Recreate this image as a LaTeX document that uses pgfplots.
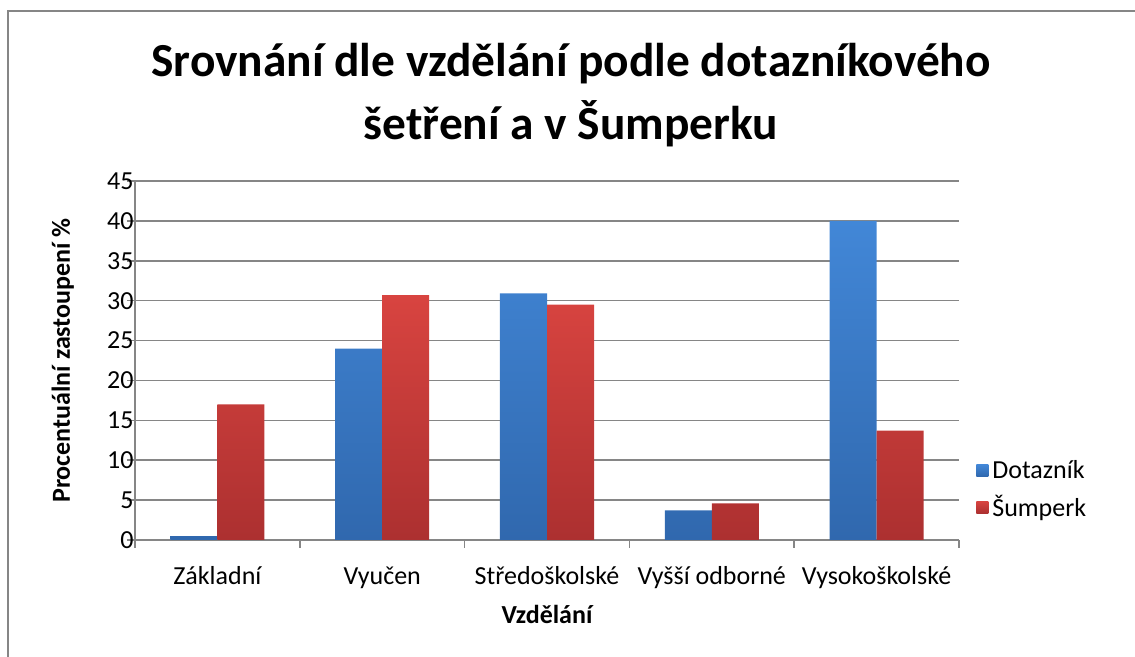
\documentclass[border=0pt]{standalone}
\usepackage{fontspec}
\setmainfont{Carlito}
\usepackage{pgfplots}
\pgfplotsset{compat=1.18}
\definecolor{gridgray}{RGB}{134,134,134}
\definecolor{bluetop}{RGB}{66,135,215}
\definecolor{bluebot}{RGB}{48,104,174}
\definecolor{redtop}{RGB}{216,68,64}
\definecolor{redbot}{RGB}{172,48,48}
\begin{document}
\begin{tikzpicture}
\useasboundingbox (0,0) rectangle (567.5pt,328.5pt);
\draw[gridgray, line width=1pt] (4pt,0) -- (4pt,323pt) -- (567.5pt,323pt);
\node[anchor=base, inner sep=0pt, font=\fontsize{23.7}{28}\selectfont\bfseries] at (285.5pt,290pt) {Srovnání dle vzdělání podle dotazníkového};
\node[anchor=base, inner sep=0pt, font=\fontsize{23.7}{28}\selectfont\bfseries] at (285.5pt,258.5pt) {šetření a v Šumperku};
\begin{axis}[
  at={(67.5pt,58.5pt)}, anchor=south west,
  scale only axis, width=412pt, height=179.5pt,
  ybar=0pt, bar width=23.5pt,
  xmin=-0.5, xmax=4.5, ymin=0, ymax=45,
  ytick={0,5,...,45},
  xtick={-0.5,0.5,...,4.5}, xticklabels={},
  extra x ticks={0,1,2,3,4},
  extra x tick labels={Základní,Vyučen,Středoškolské,Vyšší odborné,Vysokoškolské},
  extra x tick style={major tick length=0pt, xticklabel style={anchor=base, yshift=-22.5pt}},
  axis x line*=bottom, axis y line*=left,
  axis line style={-, gridgray, line width=0.75pt},
  every outer x axis line/.append style={-},
  every outer y axis line/.append style={-},
  tick align=outside, major tick length=4pt,
  tick style={gridgray, line width=0.75pt},
  ymajorgrids, grid style={gridgray, line width=0.75pt},
  /pgf/number format/assume math mode=true,
  ticklabel style={font=\fontsize{13}{15}\selectfont},
  yticklabel style={anchor=east, inner sep=0pt, xshift=3.5pt},
  ylabel={Procentuální zastoupení \%},
  ylabel style={at={(axis description cs:-0.0789,0.5)}, anchor=base, font=\fontsize{13}{15}\selectfont\bfseries},
  xlabel={Vzdělání},
  xlabel style={at={(axis description cs:0.5,-0.234)}, anchor=base, font=\fontsize{13}{15}\selectfont\bfseries},
  legend style={draw=none, fill=none, at={(1.0206,0.235)}, anchor=north west, inner sep=0pt, row sep=3pt, font=\fontsize{13}{15}\selectfont},
  legend cell align=left,
  legend image code/.code={\path[#1, draw=none] (0pt,-3pt) rectangle (6pt,3pt);},
]
\addplot[draw=none, top color=bluetop, bottom color=bluebot] coordinates {(0,0.5) (1,24.0) (2,30.9) (3,3.7) (4,40.0)};
\addplot[draw=none, top color=redtop, bottom color=redbot] coordinates {(0,17.0) (1,30.7) (2,29.5) (3,4.6) (4,13.7)};
\legend{Dotazník,Šumperk}
\end{axis}
\end{tikzpicture}
\end{document}
